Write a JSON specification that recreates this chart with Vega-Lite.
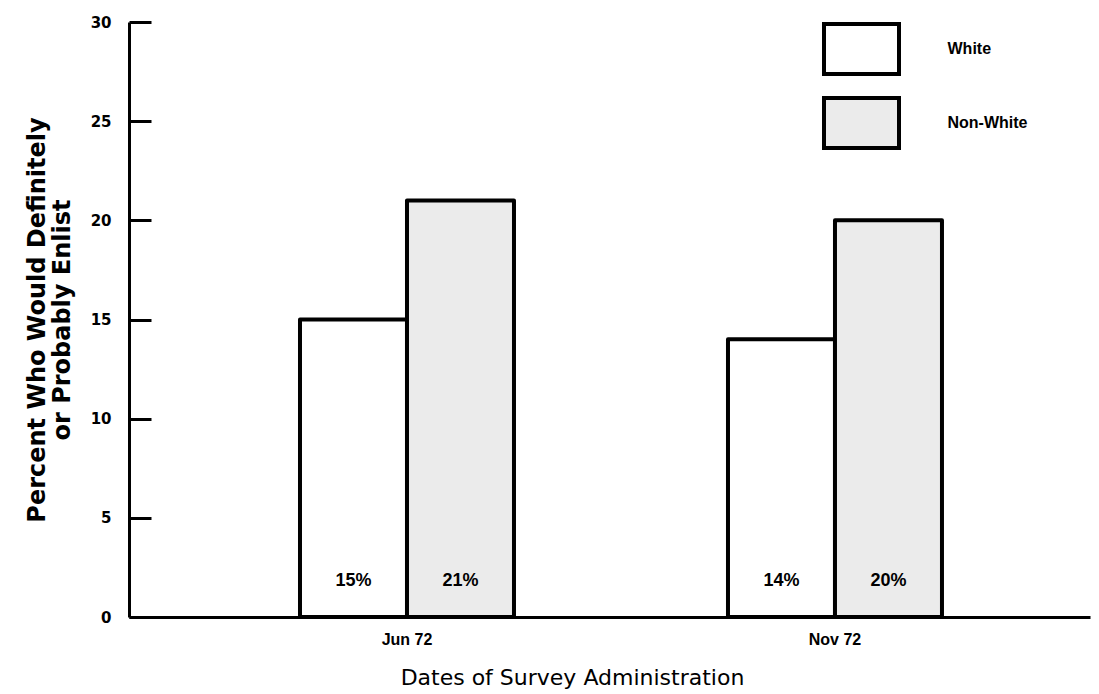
{
  "$schema": "https://vega.github.io/schema/vega-lite/v6.json",
  "width": 961,
  "height": 595,
  "autosize": {"type": "none"},
  "padding": {"left": 129, "top": 22, "right": 9, "bottom": 77},
  "background": "white",
  "config": {"view": {"stroke": null}, "font": "Liberation Sans"},
  "data": {
    "values": [
      {"date": "Jun 72", "group": "White", "value": 15, "label": "15%"},
      {"date": "Jun 72", "group": "Non-White", "value": 21, "label": "21%"},
      {"date": "Nov 72", "group": "White", "value": 14, "label": "14%"},
      {"date": "Nov 72", "group": "Non-White", "value": 20, "label": "20%"}
    ]
  },
  "encoding": {
    "x": {
      "field": "date",
      "type": "nominal",
      "sort": ["Jun 72", "Nov 72"],
      "scale": {"paddingInner": 0.5, "paddingOuter": 0.3727, "align": 0.536},
      "axis": {
        "title": "Dates of Survey Administration",
        "labelAngle": 0,
        "ticks": false,
        "domainColor": "black",
        "domainWidth": 3,
        "labelPadding": 14,
        "labelFont": "Liberation Sans",
        "labelFontSize": 16,
        "labelFontWeight": "bold",
        "labelColor": "black",
        "titleFont": "DejaVu Sans",
        "titleFontSize": 22,
        "titleFontWeight": "normal",
        "titleColor": "black",
        "titlePadding": 20,
        "titleX": 443
      }
    },
    "xOffset": {
      "field": "group",
      "type": "nominal",
      "sort": ["White", "Non-White"],
      "scale": {"paddingInner": 0, "paddingOuter": 0}
    }
  },
  "layer": [
    {
      "mark": {"type": "bar", "stroke": "black", "strokeWidth": 4, "strokeJoin": "round"},
      "encoding": {
        "y": {
          "field": "value",
          "type": "quantitative",
          "scale": {"domain": [0, 30]},
          "axis": {
            "values": [0, 5, 10, 15, 20, 25, 30],
            "title": ["Percent Who Would Definitely", "or Probably Enlist"],
            "grid": false,
            "domainColor": "black",
            "domainWidth": 3,
            "tickColor": "black",
            "tickWidth": 3,
            "tickSize": -22,
            "labelPadding": 40,
            "labelFont": "DejaVu Sans",
            "labelFontSize": 15,
            "labelFontWeight": "bold",
            "labelColor": "black",
            "titleFont": "DejaVu Sans",
            "titleFontSize": 24,
            "titleFontWeight": "bold",
            "titleColor": "black",
            "titleLineHeight": 25,
            "titlePadding": 16
          }
        },
        "fill": {
          "field": "group",
          "type": "nominal",
          "sort": ["White", "Non-White"],
          "scale": {"domain": ["White", "Non-White"], "range": ["white", "#ebebeb"]},
          "legend": {
            "orient": "none",
            "legendX": 705.5,
            "legendY": 0,
            "title": null,
            "padding": 0,
            "symbolType": "M-1.5,-1H1.5V1H-1.5Z",
            "symbolSize": 2500,
            "symbolStrokeColor": "black",
            "symbolStrokeWidth": 4,
            "symbolOpacity": 1,
            "rowPadding": 8,
            "labelOffset": 59,
            "labelFont": "Liberation Sans",
            "labelFontSize": 16,
            "labelFontWeight": "bold",
            "labelColor": "black"
          }
        }
      }
    },
    {
      "mark": {"type": "text", "font": "Liberation Sans", "fontSize": 18, "fontWeight": "bold", "color": "black"},
      "encoding": {
        "y": {"datum": 1.8, "type": "quantitative"},
        "text": {"field": "label"}
      }
    }
  ]
}
